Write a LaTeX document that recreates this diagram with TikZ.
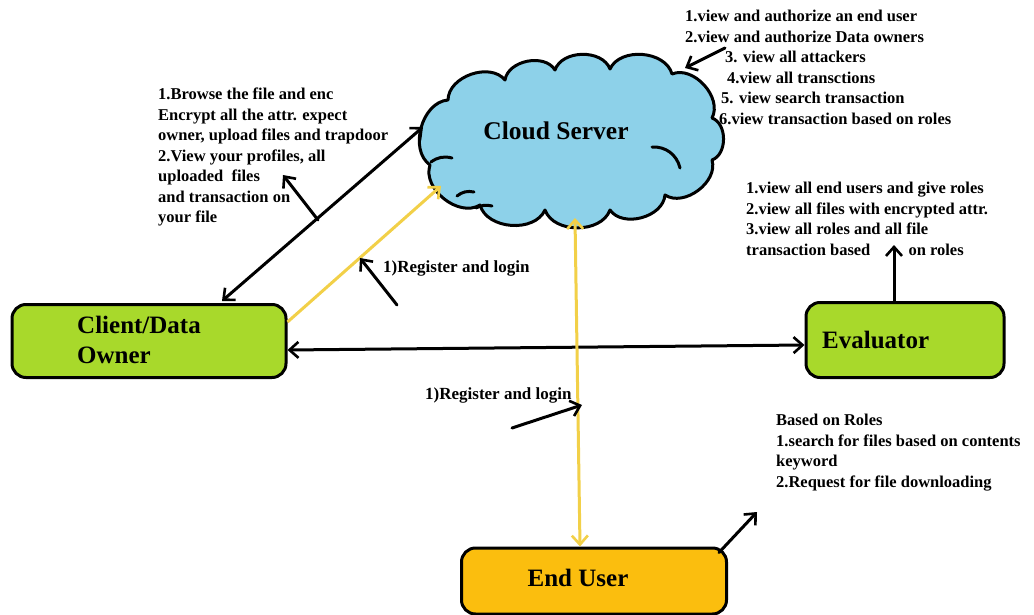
\documentclass[tikz,border=0pt]{standalone}
\usepackage{fontspec}
\setmainfont{Liberation Serif}
\usetikzlibrary{arrows.meta,calc}
\definecolor{cloudblue}{HTML}{8DD1E9}
\definecolor{boxgreen}{HTML}{A8D92B}
\definecolor{boxorange}{HTML}{FBBE0E}
\definecolor{linkyellow}{HTML}{F2D048}
\tikzset{
  blk/.style={draw=black,line width=3pt,line cap=round},
  yel/.style={draw=linkyellow,line width=3pt},
  tip/.style={-{Straight Barb[length=9pt,width=16pt,line width=2.6pt]}},
  twotip/.style={{Straight Barb[length=9pt,width=16pt,line width=2.6pt]}-{Straight Barb[length=9pt,width=16pt,line width=2.6pt]}},
  actor/.style={draw=black,line width=3pt,rounded corners=14pt,inner sep=0pt},
  boxtext/.style={font=\bfseries\fontsize{25}{30}\selectfont,align=left,inner sep=0pt},
  note/.style={font=\bfseries\fontsize{16.5}{20.5}\selectfont,align=left,inner sep=0pt,anchor=north west},
  reglabel/.style={font=\bfseries\fontsize{17}{20}\selectfont,inner sep=0pt,anchor=west},
  curl/.style={line width=3pt,line cap=round},
}
\begin{document}
\begin{tikzpicture}[x=1pt,y=-1pt]
\useasboundingbox (0,0) rectangle (1034,615);
\fill[white] (0,0) rectangle (1034,615);

% cloud
\draw[fill=cloudblue,line width=3pt,line join=round]
  (430,165) to[bend left=70] (448,100)
  to[bend left=70] (505,80)
  to[bend left=70] (555,70)
  to[bend left=70] (610,69)
  to[bend left=70] (672,74)
  to[bend left=70] (712,118)
  to[bend left=70] (712,160)
  to[bend left=70] (665,195)
  to[bend left=70] (610,210)
  to[bend left=70] (545,210)
  to[bend left=70] (480,205)
  to[bend left=70] cycle;
\draw[curl] (652,147) to[bend left=40] (680,168);
\draw[curl] (431,162) to[bend left=25] (452,158);
\draw[curl] (457,196) to[bend left=25] (474,192);
\draw[curl] (476,208) to[bend left=20] (492,206);
\node[font=\bfseries\fontsize{25.5}{30}\selectfont,inner sep=0pt] (cloud) at (556,131) {Cloud Server};
\coordinate (clleft) at (423,127);
\coordinate (clyel) at (441,186);
\coordinate (clbot) at (575,218);
\coordinate (cltr) at (685,68);

% actors
\node[actor,fill=boxgreen,minimum width=274pt,minimum height=73pt] (client) at (149,341) {};
\node[boxtext,anchor=west] (clientt) at (77,340) {Client/Data\\Owner};
\node[actor,fill=boxgreen,minimum width=198pt,minimum height=75pt] (eval) at (905,340) {};
\node[boxtext,anchor=west] (evalt) at (822,340) {Evaluator};
\node[actor,fill=boxorange,minimum width=265pt,minimum height=66pt] (eu) at (594,581) {};
\node[boxtext] (eut) at (578,578) {End User};

% notes
\node[note] (ncloud) at (685,10) {1.view and authorize an end user\\
2.view and authorize Data owners\\
\hspace*{40pt}3. view all attackers\\
\hspace*{42pt}4.view all transctions\\
\hspace*{36pt}5. view search transaction\\
\hspace*{34pt}6.view transaction based on roles};
\node[note] (nclient) at (158,88) {1.Browse the file and enc\\
Encrypt all the attr. expect\\
owner, upload files and trapdoor\\
2.View your profiles, all\\
uploaded\ \ files\\
and transaction on\\
your file};
\node[note] (neval) at (746,182) {1.view all end users and give roles\\
2.view all files with encrypted attr.\\
3.view all roles and all file\\
transaction based \hspace{34pt}on roles};
\node[note] (neu) at (776,414) {Based on Roles\\
1.search for files based on contents\\
keyword\\
2.Request for file downloading};
\node[reglabel] (reg1) at (383,268) {1)Register and login};
\node[reglabel] (reg2) at (425,395) {1)Register and login};

% connectors
\draw[blk,twotip] ($(client.north)+(73,-2)$) -- (clleft);
\coordinate (p1) at (318,220);
\coordinate (p1h) at (283,175);
\draw[blk,tip] (p1) -- (p1h);
\draw[yel,tip] ($(client.east)+(0,-19)$) -- (clyel);
\coordinate (p2) at (397,305);
\coordinate (p2h) at (360,258);
\draw[blk,tip] (p2) -- (p2h);
\draw[blk,twotip] ($(client.east)+(0,9)$) -- ($(eval.west)+(0,5)$);
\draw[yel,twotip] (clbot) -- ($(eu.north)+(-14,0)$);
\coordinate (p3) at (512,428);
\coordinate (p3h) at (582,405);
\draw[blk,tip] (p3) -- (p3h);
\coordinate (p4) at (725,48);
\draw[blk,tip] (p4) -- (cltr);
\coordinate (p5) at (894,245);
\draw[blk,tip] ($(eval.north)+(-11,0)$) -- (p5);
\coordinate (p6) at (757,512);
\draw[blk,tip] ($(eu.north east)+(-9,6)$) -- (p6);
\end{tikzpicture}
\end{document}
